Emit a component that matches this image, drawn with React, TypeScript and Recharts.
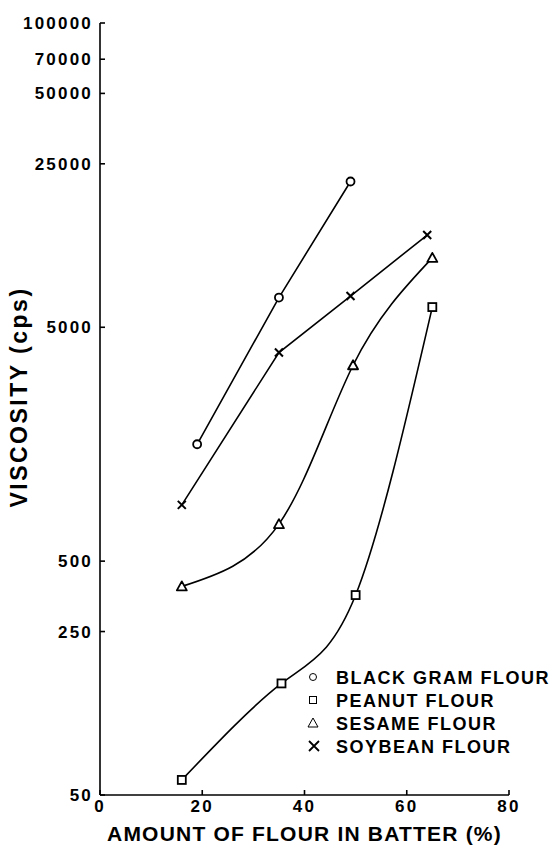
import React from 'react';
import { LineChart, Line, XAxis, YAxis, Legend, Label } from 'recharts';

const FONT = '"Liberation Sans", Arial, Helvetica, sans-serif';

// amount of flour in batter (%) / viscosity (cps)
const blackGramPct = [19, 35, 49];
const blackGramCps = [1580, 6700, 21000];
const peanutPct = [16, 35.5, 50, 65];
const peanutCps = [58, 150, 358, 6100];
const sesamePct = [16, 35, 49.5, 65];
const sesameCps = [390, 720, 3440, 9900];
const soybeanPct = [16, 35, 49, 64];
const soybeanCps = [870, 3900, 6800, 12400];

const xTicks = [0, 20, 40, 60, 80];
const yTicks = [50, 250, 500, 5000, 25000, 50000, 70000, 100000];

const legendNames = ['BLACK GRAM FLOUR', 'PEANUT FLOUR', 'SESAME FLOUR', 'SOYBEAN FLOUR'];

const toRows = (xs: number[], ys: number[]) => xs.map((x, i) => ({ pct: x, cps: ys[i] }));

type MarkProps = { cx?: number; cy?: number; index?: number; size?: number; w?: number };

const CircleMark = ({ cx = 0, cy = 0, size = 4, w = 1.8 }: MarkProps) => (
    <circle cx={cx} cy={cy} r={size} fill="#fff" stroke="#000" strokeWidth={w} />
);
const SquareMark = ({ cx = 0, cy = 0, size = 4, w = 1.8 }: MarkProps) => (
    <rect x={cx - size} y={cy - size} width={size * 2} height={size * 2} fill="#fff" stroke="#000" strokeWidth={w} />
);
const TriangleMark = ({ cx = 0, cy = 0, size = 5, w = 1.8 }: MarkProps) => (
    <path
        d={`M${cx},${cy - size}L${cx + size},${cy + size * 0.8}L${cx - size},${cy + size * 0.8}Z`}
        fill="#fff"
        stroke="#000"
        strokeWidth={w}
        strokeLinejoin="round"
    />
);
const CrossMark = ({ cx = 0, cy = 0, size = 4, w = 2 }: MarkProps) => (
    <path
        d={`M${cx - size},${cy - size}L${cx + size},${cy + size}M${cx - size},${cy + size}L${cx + size},${cy - size}`}
        stroke="#000"
        strokeWidth={w}
        fill="none"
    />
);

const marks = [CircleMark, SquareMark, TriangleMark, CrossMark];

function LegendBox() {
    return (
        <svg width={251} height={95}>
            {legendNames.map((name, i) => {
                const Mark = marks[i];
                const cy = 13 + i * 23;
                return (
                    <g key={name}>
                        {i === 3 ? (
                            <Mark cx={14} cy={cy} size={5} w={1.8} />
                        ) : (
                            <Mark cx={13} cy={cy} size={i === 2 ? 5 : 3.5} w={1} />
                        )}
                        <text
                            x={36}
                            y={cy + 7}
                            fontFamily={FONT}
                            fontWeight={700}
                            fontSize={18}
                            letterSpacing={1.5}
                            fill="#000"
                        >
                            {name}
                        </text>
                    </g>
                );
            })}
        </svg>
    );
}

const tickStyle = { fill: '#000', fontSize: 17, fontWeight: 700, fontFamily: FONT, letterSpacing: 2.2 };

export default function App() {
    const series = [
        { name: legendNames[0], data: toRows(blackGramPct, blackGramCps), type: 'linear', Mark: CircleMark },
        { name: legendNames[1], data: toRows(peanutPct, peanutCps), type: 'natural', Mark: SquareMark },
        { name: legendNames[2], data: toRows(sesamePct, sesameCps), type: 'natural', Mark: TriangleMark },
        { name: legendNames[3], data: toRows(soybeanPct, soybeanCps), type: 'linear', Mark: CrossMark },
    ];

    return (
        <div style={{ position: 'absolute', left: 0, top: 0, width: 551, height: 847, background: '#fff' }}>
            <LineChart width={551} height={847} margin={{ top: 23, right: 42, bottom: 0, left: 0 }}>
                <XAxis
                    dataKey="pct"
                    type="number"
                    domain={[0, 80]}
                    ticks={xTicks}
                    interval={0}
                    height={52}
                    tickSize={-5}
                    tickMargin={10}
                    axisLine={{ stroke: '#000', strokeWidth: 1.6 }}
                    tickLine={{ stroke: '#000', strokeWidth: 1.6 }}
                    tick={tickStyle}
                    allowDuplicatedCategory={false}
                >
                    <Label
                        content={({ viewBox }: any) => (
                            <text
                                x={viewBox.x + viewBox.width / 2}
                                y={841}
                                textAnchor="middle"
                                fontFamily={FONT}
                                fontWeight={700}
                                fontSize={21}
                                letterSpacing={1.2}
                                fill="#000"
                            >
                                AMOUNT OF FLOUR IN BATTER (%)
                            </text>
                        )}
                    />
                </XAxis>
                <YAxis
                    dataKey="cps"
                    type="number"
                    scale="log"
                    domain={[50, 100000]}
                    allowDataOverflow
                    ticks={yTicks}
                    interval={0}
                    width={100}
                    tickSize={-5}
                    tickMargin={12}
                    axisLine={{ stroke: '#000', strokeWidth: 1.6 }}
                    tickLine={{ stroke: '#000', strokeWidth: 1.6 }}
                    tick={tickStyle}
                >
                    <Label
                        content={({ viewBox }: any) => {
                            const cx = 19;
                            const cy = viewBox.y + viewBox.height / 2 - 12;
                            return (
                                <text
                                    x={cx}
                                    y={cy}
                                    transform={`rotate(-90 ${cx} ${cy})`}
                                    textAnchor="middle"
                                    dominantBaseline="central"
                                    fontFamily={FONT}
                                    fontWeight={700}
                                    fontSize={23}
                                    letterSpacing={2.5}
                                    fill="#000"
                                >
                                    VISCOSITY (cps)
                                </text>
                            );
                        }}
                    />
                </YAxis>
                {series.map((s) => (
                    <Line
                        key={s.name}
                        name={s.name}
                        data={s.data}
                        dataKey="cps"
                        type={s.type as any}
                        stroke="#000"
                        strokeWidth={1.6}
                        isAnimationActive={false}
                        dot={(p: any) => <s.Mark key={`${s.name}-${p.index}`} cx={p.cx} cy={p.cy} />}
                        activeDot={false}
                    />
                ))}
                <Legend
                    layout="horizontal"
                    verticalAlign="middle"
                    align="center"
                    wrapperStyle={{ left: 300, top: 664, width: 251, height: 95 }}
                    content={() => <LegendBox />}
                />
            </LineChart>
        </div>
    );
}
